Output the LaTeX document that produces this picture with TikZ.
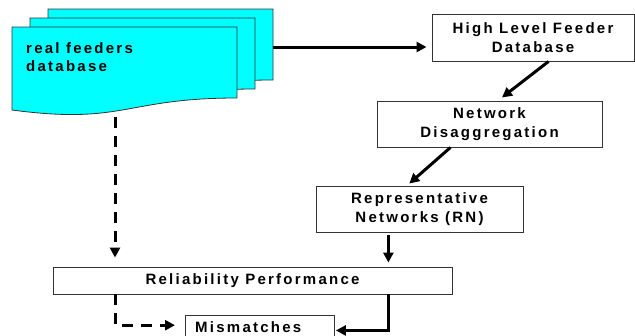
\documentclass[tikz,border=0pt]{standalone}
\usepackage{fontspec}
\setmainfont{Liberation Sans}[LetterSpace=15]
\usetikzlibrary{arrows.meta}
\definecolor{docfill}{HTML}{00FFFF}
\definecolor{edge}{HTML}{333333}
\tikzset{
  box/.style={draw=edge, line width=0.9pt, fill=white, align=center,
    inner sep=0pt, font=\bfseries\fontsize{15}{19.5}\selectfont},
  arr/.style={line width=3pt, -{Triangle[length=10pt,width=10pt]}},
  dasharr/.style={arr, dash pattern=on 11pt off 8pt},
  docpage/.style={fill=docfill, draw=edge, line width=0.8pt},
}
% one "document" page: top-left corner at (#1,#2)
\newcommand{\docpage}[2]{%
  \path[docpage] (#1,#2) -- ++(225,0) -- ++(0,71)
    .. controls ++(-112.5,0) and ++(112.5,15) .. ++(-225,12) -- cycle;}
\begin{document}
\begin{tikzpicture}[x=1pt,y=-1pt]
  \useasboundingbox (0,0) rectangle (635,335);
  \clip (0,0) rectangle (635,335);

  % stack of database pages
  \docpage{48}{9}
  \docpage{30}{18}
  \docpage{12}{27}
  \node[anchor=north west, align=left, inner sep=0pt,
        font=\bfseries\fontsize{15}{18}\selectfont] (docs) at (26,42.5)
        {real feeders\\database};
  \coordinate (backr) at (273,47);
  \coordinate (docb) at (115,117);

  % process boxes
  \node[box, minimum width=202pt, minimum height=47pt] (hlfd) at (533,37.5)
        {High Level Feeder\\Database};
  \node[box, minimum width=225pt, minimum height=46pt] (nd) at (489.5,124)
        {Network\\Disaggregation};
  \node[box, minimum width=207pt, minimum height=46pt] (rn) at (419.5,209)
        {Representative\\Networks (RN)};
  \node[box, minimum width=399pt, minimum height=27pt] (rel) at (252.5,280.5)
        {Reliability Performance};
  % the last box runs past the lower edge; its label sits in its top part
  \node[box, minimum width=149pt, minimum height=30pt, anchor=north west]
        (mis) at (185,315) {};
  \node[anchor=base west, inner sep=0pt,
        font=\bfseries\fontsize{15}{19.5}\selectfont] (mislabel)
        at ([xshift=10pt, yshift=-17.5pt]mis.north west) {Mismatches};

  % connectors
  \draw[arr, shorten >=5pt] (backr) -- (backr -| hlfd.west);
  \draw[arr, shorten >=5pt] (hlfd.-57) -- (nd.70);
  \draw[arr, shorten >=3pt] (nd.211) -- (rn.118);
  \draw[arr, shorten <=3pt, shorten >=4pt] (rn.217) -- (rn.217 |- rel.north);
  \draw[arr, shorten >=1pt] (rel.south -| rn.217) |- (mis.east);
  \draw[dasharr, shorten >=9pt] (docb) -- (docb |- rel.north);
  \draw[dasharr, shorten >=10pt] (rel.south -| docb) |- (mis.176);
\end{tikzpicture}
\end{document}
